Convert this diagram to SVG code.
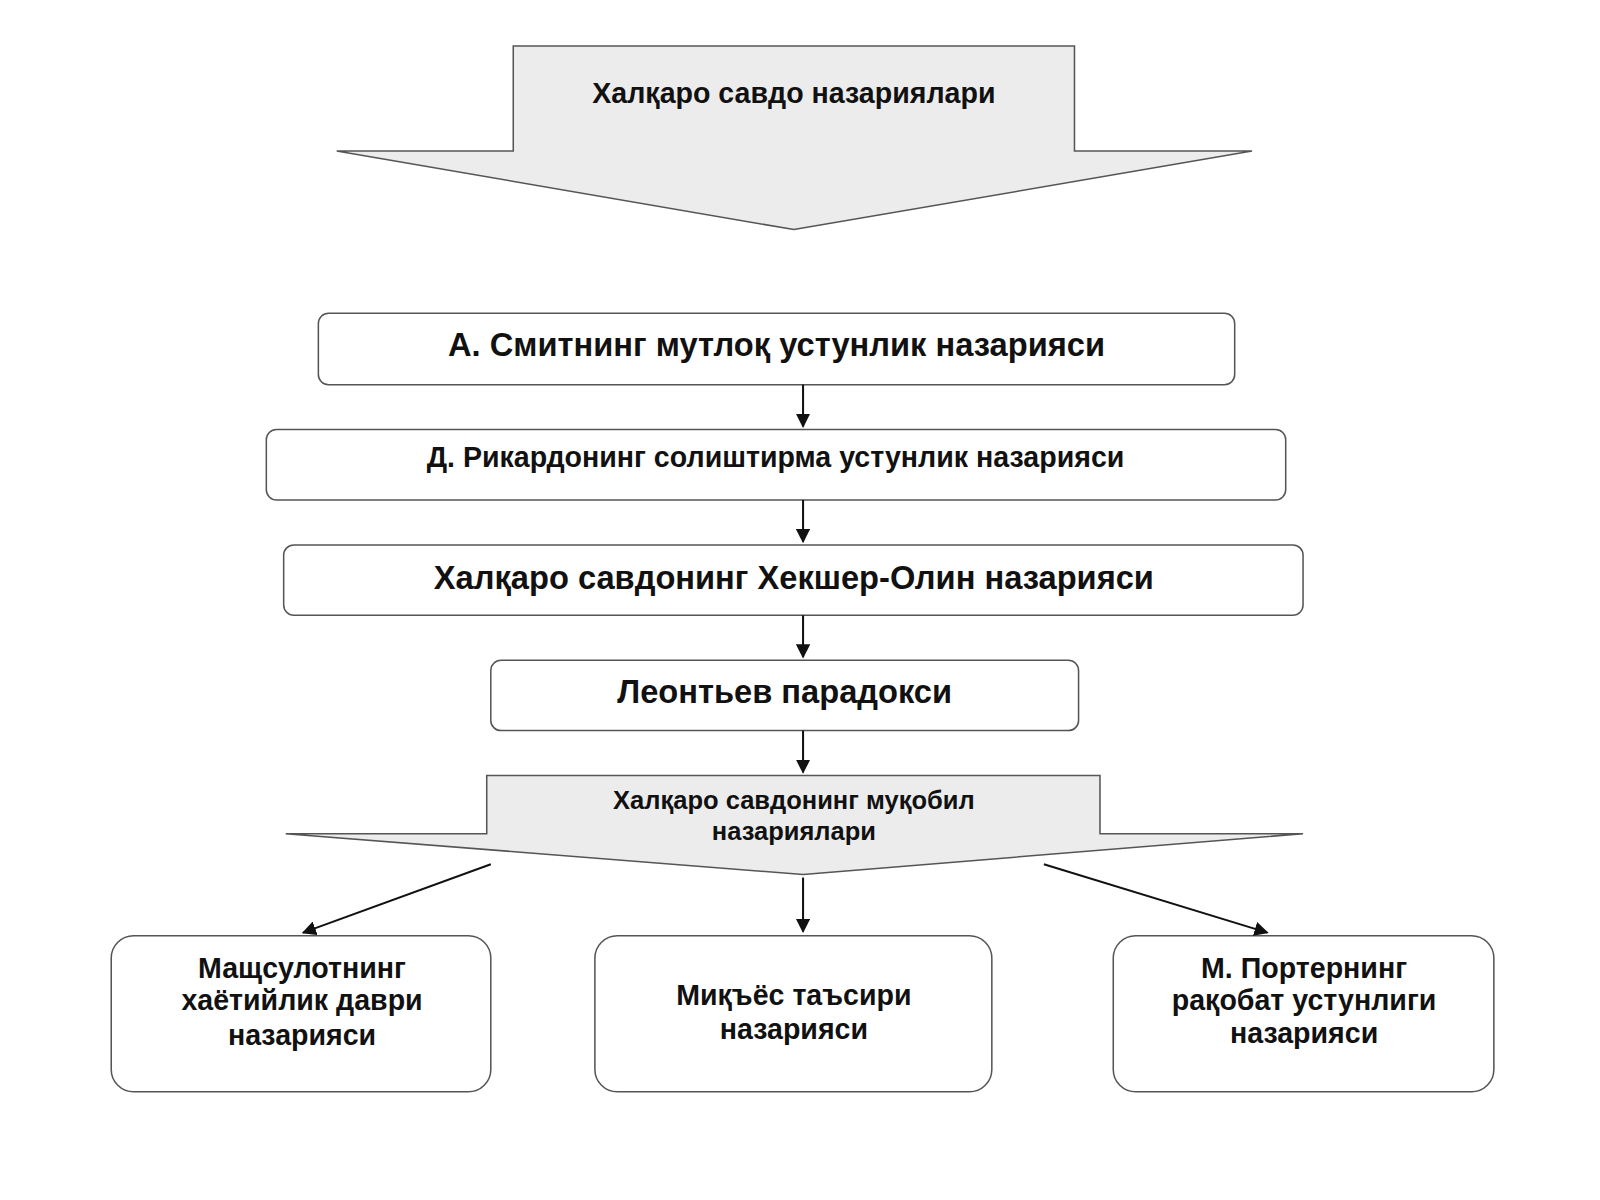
<svg xmlns="http://www.w3.org/2000/svg" width="1600" height="1200" viewBox="0 0 1600 1200">
<style>
.box{fill:#fff;stroke:#555;stroke-width:1.5}
.big{fill:#ececec;stroke:#555;stroke-width:1.5}
text{font-family:"Liberation Sans",Arial,sans-serif;font-weight:bold;fill:#111;text-anchor:middle}
.c{stroke:#111;stroke-width:2;fill:none;marker-end:url(#ah)}
</style>
<defs><marker id="ah" viewBox="0 0 10 10" refX="9" refY="5" markerWidth="7" markerHeight="7" orient="auto"><path d="M0,0L10,5L0,10z" fill="#111"/></marker></defs>
<rect width="1600" height="1200" fill="#fff"/>
<g transform="scale(1.0204)">
<g id="top"><path class="big" d="M503,45H1053V148H1227L778,225L330,148H503Z"/><text x="778" y="101" font-size="28">Халқаро савдо назариялари</text></g>
<g id="n1"><rect class="box" x="312" y="307" width="898" height="70" rx="10"/><text x="761" y="349" font-size="32">А. Смитнинг мутлоқ устунлик назарияси</text></g>
<g id="n2"><rect class="box" x="261" y="421" width="999" height="69" rx="10"/><text x="760" y="458" font-size="28">Д. Рикардонинг солиштирма устунлик назарияси</text></g>
<g id="n3"><rect class="box" x="278" y="534" width="999" height="69" rx="10"/><text x="778" y="577" font-size="32">Халқаро савдонинг Хекшер-Олин назарияси</text></g>
<g id="n4"><rect class="box" x="481" y="647" width="576" height="69" rx="10"/><text x="769" y="689" font-size="32">Леонтьев парадокси</text></g>
<g id="alt"><path class="big" d="M477,760H1078V817H1277L787,857L280,817H477Z"/><text x="778" y="793" font-size="25">Халқаро савдонинг муқобил</text><text x="778" y="823" font-size="25">назариялари</text></g>
<g id="b1"><rect class="box" x="109" y="917" width="372" height="153" rx="22"/><text x="296" y="958" font-size="28">Мащсулотнинг</text><text x="296" y="990" font-size="28">хаётийлик даври</text><text x="296" y="1024" font-size="28">назарияси</text></g>
<g id="b2"><rect class="box" x="583" y="917" width="389" height="153" rx="22"/><text x="778" y="985" font-size="28">Миқъёс таъсири</text><text x="778" y="1018" font-size="28">назарияси</text></g>
<g id="b3"><rect class="box" x="1091" y="917" width="373" height="153" rx="22"/><text x="1278" y="958" font-size="28">М. Портернинг</text><text x="1278" y="990" font-size="28">рақобат устунлиги</text><text x="1278" y="1022" font-size="28">назарияси</text></g>
<g id="connectors">
<path class="c" d="M787,377V418"/><path class="c" d="M787,490V531"/><path class="c" d="M787,603V644"/><path class="c" d="M787,716V757"/>
<path class="c" d="M481,847L297,914"/><path class="c" d="M787,860V913"/><path class="c" d="M1023,847L1242,914"/>
</g>
</g>
</svg>
